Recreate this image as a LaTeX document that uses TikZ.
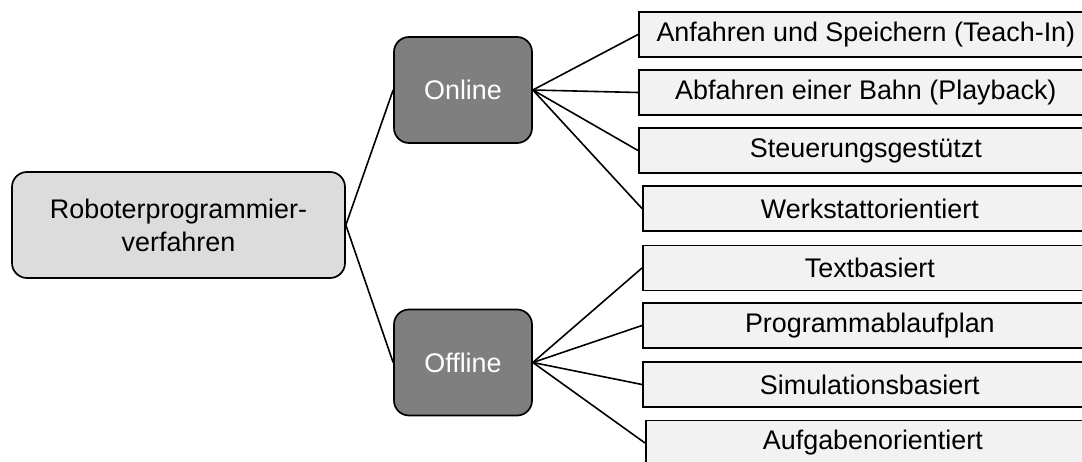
\documentclass[tikz,border=0pt]{standalone}
\usepackage{fontspec}
\setmainfont{Liberation Sans}
\definecolor{rootfill}{HTML}{DCDCDC}
\definecolor{branchfill}{HTML}{7F7F7F}
\definecolor{leaffill}{HTML}{F2F2F2}
\tikzset{
  box/.style={draw=black, line width=1.7pt, inner sep=0pt, align=center,
    font=\fontsize{26.9}{33}\selectfont},
  rootbox/.style={box, fill=rootfill, rounded corners=15pt,
    minimum width=333pt, minimum height=106pt},
  branchbox/.style={box, fill=branchfill, text=white, rounded corners=15pt,
    minimum width=138pt, minimum height=106pt},
  leafbox/.style={box, fill=leaffill, anchor=west,
    minimum width=454pt, minimum height=45pt},
  link/.style={draw=black, line width=1.6pt}
}
\begin{document}
\begin{tikzpicture}[x=1pt, y=-1pt]
  \useasboundingbox (0,0) rectangle (1082,462);
  \clip (0,0) rectangle (1082,462);

  % root and the two branches
  \node[rootbox] (root) at (178.5,225) {Roboterprogrammier-\\verfahren};
  \node[branchbox] (online) at (463,90) {Online};
  \node[branchbox] (offline) at (463,362.5) {Offline};

  % online methods
  \node[leafbox] (l1) at (638,34.5) {Anfahren und Speichern (Teach-In)};
  \node[leafbox] (l2) at (638,92.5) {Abfahren einer Bahn (Playback)};
  \node[leafbox] (l3) at (638,150.5) {Steuerungsgestützt};
  \node[leafbox] (l4) at (642,208.5) {Werkstattorientiert};

  % offline methods
  \node[leafbox] (l5) at (642,268) {Textbasiert};
  \node[leafbox] (l6) at (642,325.5) {Programmablaufplan};
  \node[leafbox] (l7) at (642,384.5) {Simulationsbasiert};
  \node[leafbox] (l8) at (645,443) {Aufgabenorientiert};

  % connectors
  \draw[link] (root.east) -- (online.west);
  \draw[link] (root.east) -- (offline.west);
  \foreach \n in {l1,l2,l3,l4}
    \draw[link] (online.east) -- (\n.west);
  \foreach \n in {l5,l6,l7,l8}
    \draw[link] (offline.east) -- (\n.west);
\end{tikzpicture}
\end{document}
